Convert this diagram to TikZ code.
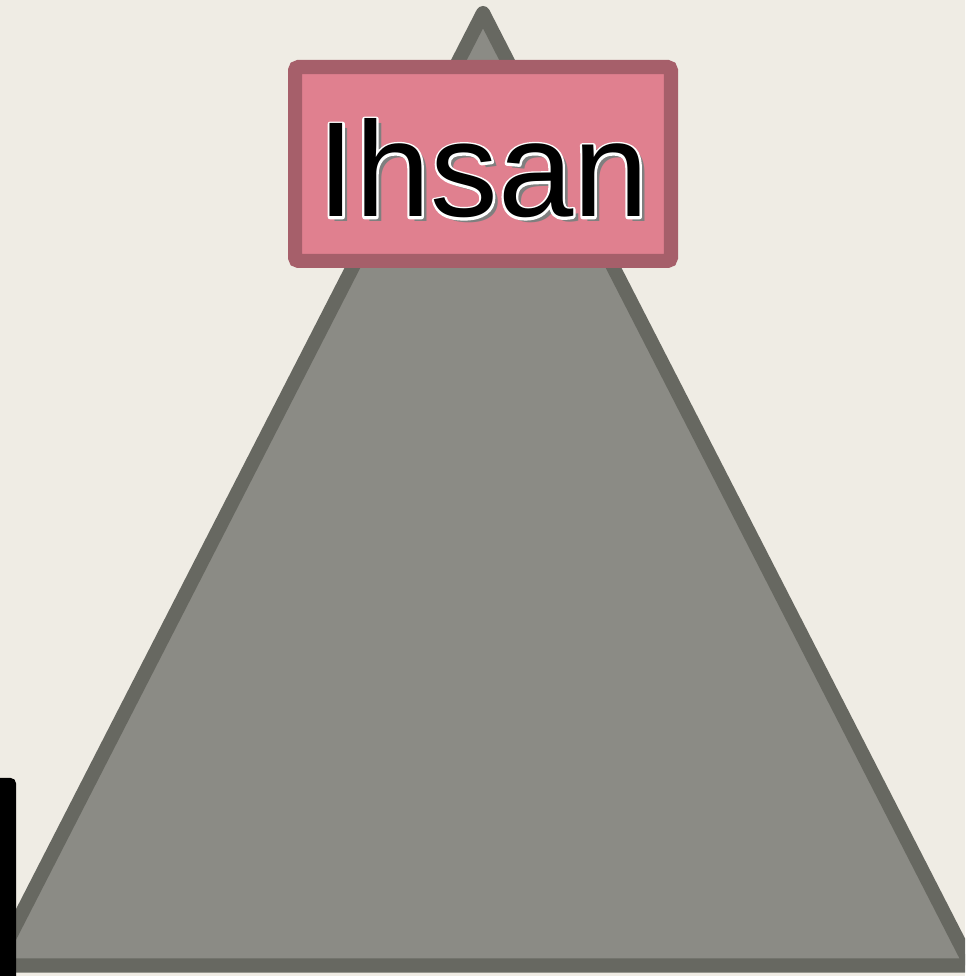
\documentclass[tikz,border=0pt]{standalone}
\usepackage{fontspec}
\setmainfont{Liberation Sans}
\definecolor{paper}{HTML}{EFECE4}
\definecolor{rockfill}{HTML}{8B8B85}
\definecolor{rockline}{HTML}{676861}
\definecolor{signfill}{HTML}{E0808F}
\definecolor{signline}{HTML}{A65F6A}
\definecolor{shade}{HTML}{7F7F7F}
% gray drop shadow, a white outline, then the black text
\newcommand{\signtext}[1]{\makebox[0pt][l]{\hspace{0.1cm}\raisebox{-0.1cm}{\color{shade}#1}}%
  \makebox[0pt][l]{\color{white}\special{pdf:literal direct 1 1 1 RG 2.6 w 1 j 2 Tr}#1\special{pdf:literal direct 0 Tr}}#1}
\tikzset{
  sign/.style={draw=signline, fill=signfill, line width=8pt, rounded corners=2pt,
    minimum width=7.52cm, minimum height=3.88cm, inner sep=0pt}
}
\begin{document}
\begin{tikzpicture}[x=0.02cm,y=0.02cm]
\useasboundingbox (0,0) rectangle (965,976);
\clip (0,0) rectangle (965,976);
\fill[paper] (0,0) rectangle (965,976);
% the pyramid
\coordinate (apex) at (483,963);
\coordinate (left) at (-5,10.5);
\coordinate (right) at (971,10.5);
\draw[rockline, fill=rockfill, line width=8pt, line join=round] (apex) -- (left) -- (right) -- cycle;
% bar at the left edge
\fill[black] (0,0) -- (0,198) [rounded corners=3pt] -- (16,198) [sharp corners] -- (16,0) -- cycle;
% name sign
\node[sign] (ihsan) at (483,812) {};
\node[anchor=base, font=\fontsize{77}{77}\selectfont] (name) at (483,759) {\signtext{Ihsan}};
\end{tikzpicture}
\end{document}
